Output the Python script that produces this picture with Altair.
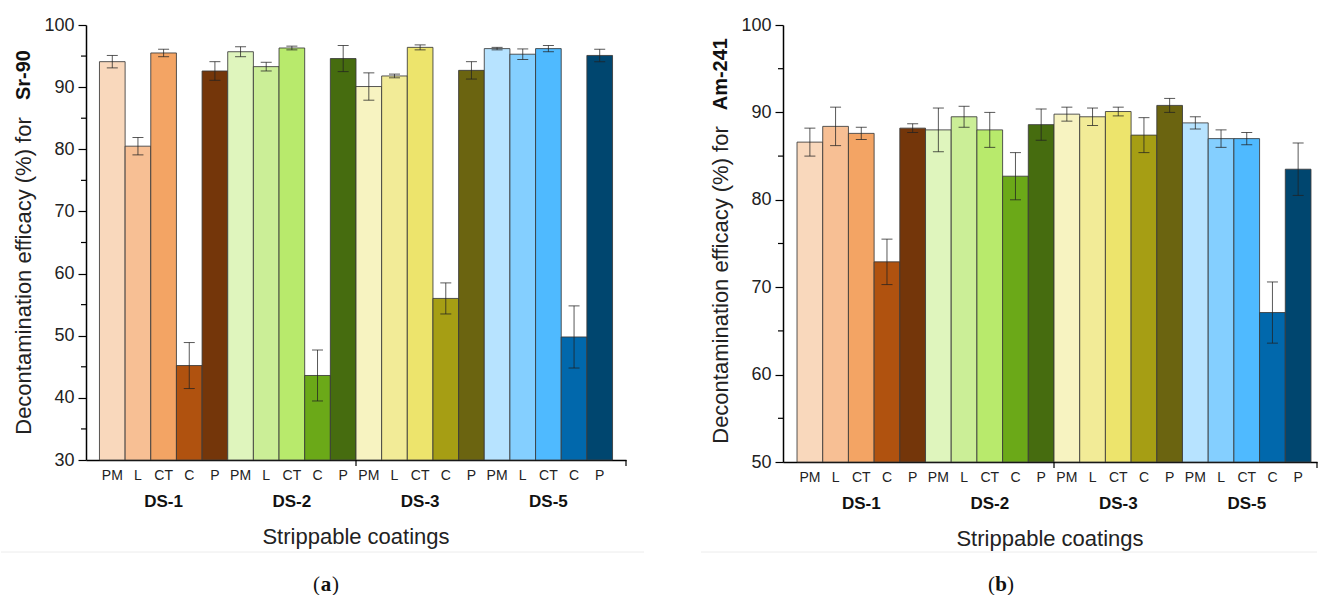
import altair as alt
import pandas as pd

groups = ["DS-1", "DS-2", "DS-3", "DS-5"]
coatings = ["PM", "L", "CT", "C", "P"]

sr_mean = [94.1, 80.5, 95.5, 45.2, 92.6,
           95.7, 93.3, 96.3, 43.6, 94.6,
           90.1, 91.8, 96.4, 56.0, 92.7,
           96.2, 95.3, 96.2, 49.8, 95.1]
sr_err = [1.0, 1.4, 0.6, 3.7, 1.5,
          0.8, 0.7, 0.3, 4.1, 2.1,
          2.2, 0.3, 0.4, 2.5, 1.4,
          0.2, 0.85, 0.5, 5.0, 1.0]

am_mean = [86.6, 88.4, 87.6, 72.9, 88.2,
           88.0, 89.5, 88.0, 82.7, 88.6,
           89.8, 89.5, 90.1, 87.4, 90.8,
           88.8, 87.0, 87.0, 67.1, 83.5]
am_err = [1.6, 2.2, 0.7, 2.6, 0.5,
          2.5, 1.2, 2.0, 2.7, 1.8,
          0.8, 1.0, 0.5, 2.0, 0.8,
          0.7, 1.0, 0.7, 3.5, 3.0]

bar_colors = ["#F9D8BC", "#F7BF94", "#F3A464", "#B0520F", "#74360A",
              "#DFF5BD", "#CBEE97", "#B8EA6C", "#6BA918", "#466C0F",
              "#F7F3C1", "#F2EB97", "#EDE46C", "#A69E14", "#6B6410",
              "#B7E3FF", "#84CFFF", "#4FBAFF", "#0168AC", "#00466F"]

FONT = "Liberation Sans"
keys = [f"{g}|{c}" for g in groups for c in coatings]


def panel(means, errs, ymin, ticks_major, W, H, title_main, title_bold,
          title_center, title_top, letter, letter_x, pad_outer, align,
          rule_x0, rule_x1):
    df = pd.DataFrame({
        "key": keys,
        "group": [g for g in groups for _ in coatings],
        "coating": coatings * len(groups),
        "mean": means,
        "lo": [m - e for m, e in zip(means, errs)],
        "hi": [m + e for m, e in zip(means, errs)],
    })
    xs = alt.Scale(domain=keys, paddingInner=0, paddingOuter=pad_outer, align=align)
    ys = alt.Scale(domain=[ymin, 100], nice=False, zero=False)
    x = alt.X("key:N", scale=xs, sort=keys,
              axis=alt.Axis(title=None, labelExpr="split(datum.value, '|')[1]",
                            labelAngle=0, ticks=False, labelPadding=8,
                            labelFontSize=14, labelColor="#222", labelFont=FONT,
                            domainColor="#000", domainWidth=1.5))
    y = alt.Y("mean:Q", scale=ys,
              axis=alt.Axis(title=None, values=ticks_major, tickSize=8,
                            tickColor="#000", tickWidth=1.2, labelFontSize=18,
                            labelColor="#222", labelFont=FONT, labelPadding=4,
                            domainColor="#000", domainWidth=1.5, grid=False))
    base = alt.Chart(df)
    bars = base.mark_bar(stroke="#3a3a3a", strokeWidth=1, strokeOpacity=0.85).encode(
        x=x, y=y, y2=alt.datum(ymin),
        color=alt.Color("key:N", scale=alt.Scale(domain=keys, range=bar_colors), legend=None),
    )
    err = base.mark_rule(color="#222", strokeWidth=1, opacity=0.75).encode(
        x=alt.X("key:N", sort=keys), y="lo:Q", y2="hi:Q")
    cap_hi = base.mark_tick(color="#222", size=11, thickness=1, opacity=0.75).encode(
        x=alt.X("key:N", sort=keys), y="hi:Q")
    cap_lo = base.mark_tick(color="#222", size=11, thickness=1, opacity=0.75).encode(
        x=alt.X("key:N", sort=keys), y="lo:Q")

    minor_vals = [v + 5 for v in ticks_major[:-1]]
    minor = alt.Chart(pd.DataFrame({"v": minor_vals})).mark_rule(
        color="#000", strokeWidth=1.2).encode(
        y=alt.Y("v:Q"), x=alt.value(-5), x2=alt.value(0))

    sep_df = pd.DataFrame({"key": ["DS-3|PM"]})
    sep = alt.Chart(sep_df).mark_rule(color="#000", strokeWidth=1.2).encode(
        x=alt.X("key:N", sort=keys, bandPosition=0),
        y=alt.value(H), y2=alt.value(H + 6))
    end_tick = alt.Chart(sep_df).mark_rule(color="#000", strokeWidth=1.2).encode(
        x=alt.value(W), y=alt.value(H), y2=alt.value(H + 6))

    glab = alt.Chart(pd.DataFrame({"key": [f"{g}|CT" for g in groups], "g": groups})).mark_text(
        font=FONT, fontSize=17, fontWeight="bold", color="#111", baseline="middle").encode(
        x=alt.X("key:N", sort=keys), y=alt.value(H + 42), text="g:N")

    one = pd.DataFrame({"a": [0]})
    xtitle = alt.Chart(one).mark_text(
        text="Strippable coatings", font=FONT, fontSize=22, color="#222",
        baseline="middle").encode(x=alt.value(W / 2), y=alt.value(H + 77))
    yt1 = alt.Chart(one).mark_text(
        text=title_main, font=FONT, fontSize=22, color="#222", angle=270,
        align="center", baseline="middle").encode(x=alt.value(-62), y=alt.value(title_center))
    yt2 = alt.Chart(one).mark_text(
        text=title_bold, font=FONT, fontSize=20, fontWeight="bold", color="#111", angle=270,
        align="right", baseline="middle").encode(x=alt.value(-62), y=alt.value(title_top))

    hr = alt.Chart(one).mark_rule(color="#ececec", strokeWidth=1).encode(
        x=alt.value(rule_x0), x2=alt.value(rule_x1), y=alt.value(527))
    lp = alt.Chart(one).mark_text(
        text="(", font="Liberation Serif", fontSize=21, color="#111", align="right",
        baseline="middle").encode(x=alt.value(letter_x - 6), y=alt.value(560))
    lb = alt.Chart(one).mark_text(
        text=letter, font="Liberation Serif", fontSize=21, fontWeight="bold", color="#111",
        align="center", baseline="middle").encode(x=alt.value(letter_x), y=alt.value(560))
    rp = alt.Chart(one).mark_text(
        text=")", font="Liberation Serif", fontSize=21, color="#111", align="left",
        baseline="middle").encode(x=alt.value(letter_x + 6), y=alt.value(560))

    return alt.layer(bars, err, cap_hi, cap_lo, minor, sep, end_tick, glab,
                     xtitle, yt1, yt2, hr, lp, lb, rp).properties(width=W, height=H)


left = panel(sr_mean, sr_err, 30, [30, 40, 50, 60, 70, 80, 90, 100], 540, 435,
             "Decontamination efficacy (%) for", "Sr-90", 251, 25, "a", 240,
             0.525, 0.5, -85, 558)
right = panel(am_mean, am_err, 50, [50, 60, 70, 80, 90, 100], 534, 437,
              "Decontamination efficacy (%) for", "Am-241", 260, 13, "b", 218,
              0.39, 0.7, -82, 534)

chart = alt.hconcat(left, right, spacing=157, bounds="flush").properties(
    padding={"left": 0, "top": 16, "right": 0, "bottom": 0}
).configure_view(stroke=None)

chart.save("out.html", embed_options={"renderer": "svg", "actions": False})
